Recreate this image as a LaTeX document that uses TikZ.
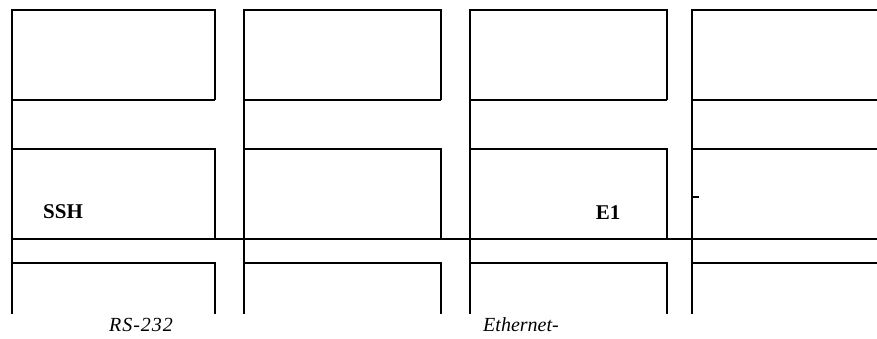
\documentclass[tikz,border=0pt]{standalone}
\usepackage{fontspec}
\setmainfont{Liberation Serif}
\begin{document}
\begin{tikzpicture}[x=1pt,y=-1pt,
  frame/.style={line width=1.8pt, line join=miter},
  bold label/.style={font=\bfseries\fontsize{21}{25}\selectfont, anchor=base, inner sep=0pt},
  ital label/.style={font=\itshape\fontsize{20}{24}\selectfont, anchor=base, inner sep=0pt}]
  % canvas
  \fill[white] (0,0) rectangle (877,338);
  \useasboundingbox (0,0) rectangle (877,338);

  % three framed columns, each split into three panels
  \foreach \xl/\xr in {12/215, 244/441, 470/667} {
    \draw[frame] (\xr,100) -- (\xr,10) -- (\xl,10) -- (\xl,314);
    \draw[frame] (\xl,100) -- (\xr,100);
    \draw[frame] (\xl,149) -- (\xr,149) -- (\xr,239);
    \draw[frame] (\xl,263) -- (\xr,263) -- (\xr,314);
  }

  % last column runs off the right edge
  \draw[frame] (877,10) -- (692,10) -- (692,314);
  \draw[frame] (692,100) -- (877,100);
  \draw[frame] (692,149) -- (877,149);
  \draw[frame] (692,263) -- (877,263);
  \draw[frame] (692,197) -- (699,197);

  % shared line across all columns
  \draw[frame] (12,239) -- (877,239);

  % labels
  \node[bold label] (ssh) at (63,218) {SSH};
  \node[bold label] (e1) at (608,219) {E1};
  \node[ital label, font=\itshape\fontsize{20}{24}\selectfont\addfontfeature{LetterSpace=5}] (rs) at (141,331) {RS-232};
  \node[ital label] (eth) at (521,331) {Ethernet-};
\end{tikzpicture}
\end{document}
